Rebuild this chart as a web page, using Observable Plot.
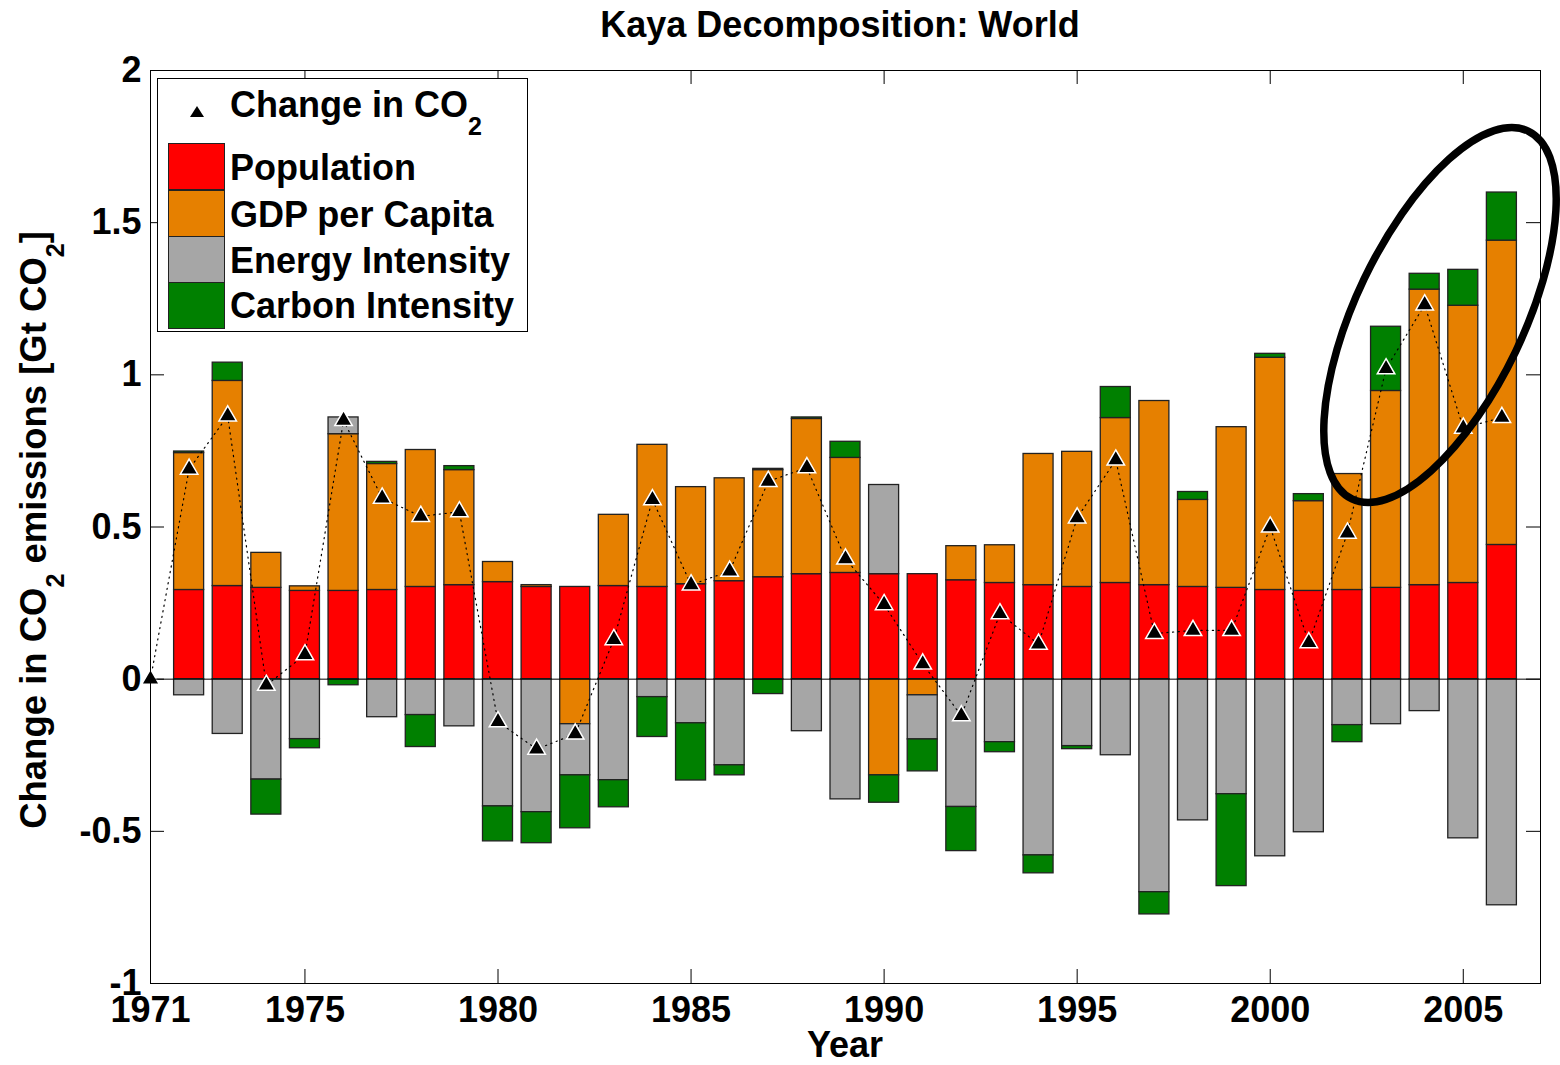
<!DOCTYPE html>
<html><head><meta charset="utf-8">
<script src="https://cdn.jsdelivr.net/npm/d3@7"></script>
<script src="https://cdn.jsdelivr.net/npm/@observablehq/plot@0.6"></script>
<style>
body{margin:0;background:#fff;}
#wrap{position:relative;width:1560px;height:1065px;font-family:"Liberation Sans",Arial,sans-serif;font-weight:bold;color:#000;overflow:hidden;}
.abs{position:absolute;white-space:nowrap;font-size:36px;line-height:36px;}
#title{height:50px;}
#chart svg{display:block;}
.sw{position:absolute;left:168px;width:55px;border:1px solid #222;}
.sub{font-size:25px;position:relative;top:18px;}
</style></head><body>
<div id="wrap">
<div id="title"><div class="abs" style="left:0;width:1680px;text-align:center;top:7px;">Kaya Decomposition: World</div></div>
<div id="chart"></div>
<div class="abs" style="left:0;width:1690px;text-align:center;top:1027px;">Year</div>
<div class="abs" style="left:16px;top:880px;width:700px;text-align:center;transform-origin:left top;transform:rotate(-90deg);font-size:36.5px;">Change in CO<span class="sub">2</span> emissions [Gt CO<span class="sub">2</span>]</div>
<div id="legend" style="position:absolute;left:157px;top:78px;width:369px;height:252px;border:1px solid #000;background:#fff;"></div>
</div>
<script>
const years  = [1971,1972,1973,1974,1975,1976,1977,1978,1979,1980,1981,1982,1983,1984,1985,1986,1987,1988,1989,1990,1991,1992,1993,1994,1995,1996,1997,1998,1999,2000,2001,2002,2003,2004,2005,2006];
const co2    = [0,0.69,0.865,-0.02,0.08,0.85,0.595,0.535,0.55,-0.14,-0.23,-0.18,0.13,0.59,0.31,0.355,0.65,0.695,0.395,0.245,0.05,-0.12,0.215,0.115,0.53,0.72,0.15,0.16,0.16,0.50,0.12,0.48,1.02,1.23,0.825,0.86];
const population = [0,0.293,0.306,0.300,0.290,0.290,0.293,0.303,0.309,0.319,0.303,0.303,0.306,0.303,0.312,0.322,0.335,0.345,0.349,0.345,0.345,0.325,0.316,0.309,0.303,0.316,0.309,0.303,0.300,0.293,0.290,0.293,0.300,0.309,0.316,0.441];
const gdpPerCapita = [0,0.450,0.674,0.115,0.015,0.515,0.414,0.450,0.378,0.066,0.006,-0.148,0.234,0.467,0.319,0.338,0.352,0.510,0.378,-0.316,-0.053,0.112,0.124,0.431,0.444,0.542,0.605,0.286,0.528,0.763,0.295,0.381,0.647,0.971,0.911,1.000];
const energyIntensity = [0,-0.053,-0.180,-0.330,-0.197,0.055,-0.125,-0.118,-0.155,-0.418,-0.437,-0.168,-0.332,-0.059,-0.145,-0.283,0.004,-0.171,-0.395,0.293,-0.145,-0.420,-0.207,-0.579,-0.220,-0.250,-0.700,-0.464,-0.378,-0.582,-0.503,-0.151,-0.148,-0.105,-0.523,-0.743];
const carbonIntensity = [0,0.005,0.060,-0.115,-0.030,-0.020,0.007,-0.105,0.013,-0.115,-0.102,-0.174,-0.089,-0.131,-0.188,-0.033,-0.049,0.005,0.053,-0.090,-0.105,-0.145,-0.033,-0.059,-0.010,0.102,-0.073,0.026,-0.302,0.013,0.023,-0.056,0.211,0.052,0.118,0.158];
const factors = ["Population","GDP per Capita","Energy Intensity","Carbon Intensity"];
const factorColors = ["#ff0000","#e68000","#a6a6a6","#008000"];
const xTicks = [1971,1975,1980,1985,1990,1995,2000,2005];
const yTicks = [-1,-0.5,0,0.5,1,1.5,2];
// highlighted period (annotation ellipse centre, in data units)
const highlightCenter = [2004.41, 1.195];

const series = [population, gdpPerCapita, energyIntensity, carbonIntensity];
const rows = [];
years.forEach((yr, i) => {
  series.forEach((s, j) => { if (s[i] !== 0) rows.push({year: yr, factor: factors[j], value: s[i]}); });
});
const co2Rows = years.map((yr, i) => ({year: yr, co2: co2[i]}));

const W = 1560, H = 1015, mT = 20, mB = 82, mL = 150, mR = 20;
const pw = W - mL - mR, ph = H - mT - mB;
const font = "Liberation Sans, Arial, sans-serif";

const chart = Plot.plot({
  width: W, height: H, marginTop: mT, marginBottom: mB, marginLeft: mL, marginRight: mR,
  x: {domain: [1971, 2007]},
  y: {domain: [-1, 2]},
  color: {domain: factors, range: factorColors},
  style: {fontFamily: font, fontSize: "36px", fontWeight: "bold", color: "black", background: "white", overflow: "visible"},
  marks: [
    Plot.rectY(rows, Plot.stackY({x1: d => d.year - 0.5, x2: d => d.year + 0.5, y: "value", z: "factor", fill: "factor",
      insetLeft: 4.3, insetRight: 4.3, stroke: "#222", strokeWidth: 1.3})),
    Plot.ruleY([0], {stroke: "black", strokeWidth: 1}),
    Plot.line(co2Rows, {x: "year", y: "co2", curve: "linear", stroke: "black", strokeWidth: 1.2, strokeDasharray: "1.2,4.5"}),
    Plot.dot(co2Rows, {x: "year", y: "co2", symbol: "triangle", r: 6.5, fill: "black", stroke: "white", strokeWidth: 1.5}),
    Plot.frame({stroke: "black", strokeWidth: 1}),
    Plot.tickX(xTicks, {x: d => d, stroke: "black", insetBottom: ph - 14}),
    Plot.tickX(xTicks, {x: d => d, stroke: "black", insetTop: ph - 14}),
    Plot.tickY(yTicks, {y: d => d, stroke: "black", insetRight: pw - 14}),
    Plot.tickY(yTicks, {y: d => d, stroke: "black", insetLeft: pw - 14}),
    Plot.axisX({ticks: xTicks, tickSize: 0, tickPadding: 13, tickFormat: d => String(d), label: null, fontSize: 36, fontWeight: "bold"}),
    Plot.axisY({ticks: yTicks, tickSize: 0, tickPadding: 9, tickFormat: d => String(d), label: null, fontSize: 36, fontWeight: "bold"})
  ]
});
document.getElementById("chart").appendChild(chart);

// annotation ellipse around the last years
const sx = chart.scale("x"), sy = chart.scale("y");
const ns = "http://www.w3.org/2000/svg";
const el = document.createElementNS(ns, "ellipse");
const cx = sx.apply(highlightCenter[0]), cy = sy.apply(highlightCenter[1]);
el.setAttribute("cx", cx); el.setAttribute("cy", cy);
el.setAttribute("rx", 84); el.setAttribute("ry", 204);
el.setAttribute("transform", `rotate(25.6 ${cx} ${cy})`);
el.setAttribute("fill", "none"); el.setAttribute("stroke", "black"); el.setAttribute("stroke-width", 7.5);
chart.appendChild(el);

// legend
const lg = document.getElementById("legend");
const off = (x, y) => [x - 158, y - 79];
function addAbs(html, x, y, style = "") {
  const d = document.createElement("div");
  const [l, t] = off(x, y);
  d.className = "abs"; d.style.left = l + "px"; d.style.top = t + "px"; d.style.cssText += style;
  d.innerHTML = html; lg.appendChild(d); return d;
}
addAbs(`<svg width="14" height="12"><polygon points="7,0 14,11 0,11" fill="black"/></svg>`, 190, 106, "line-height:0;");
addAbs(`Change in CO<span class="sub">2</span>`, 230, 87);
const rowTops = [143, 190, 236, 282];
const rowText = [150, 197, 243, 288];
factors.forEach((f, i) => {
  const s = document.createElement("div");
  const [l, t] = off(168, rowTops[i]);
  s.className = "sw"; s.style.left = l + "px"; s.style.top = t + "px"; s.style.height = "45px";
  s.style.background = factorColors[i];
  lg.appendChild(s);
  addAbs(f, 230, rowText[i]);
});
</script>
</body></html>
